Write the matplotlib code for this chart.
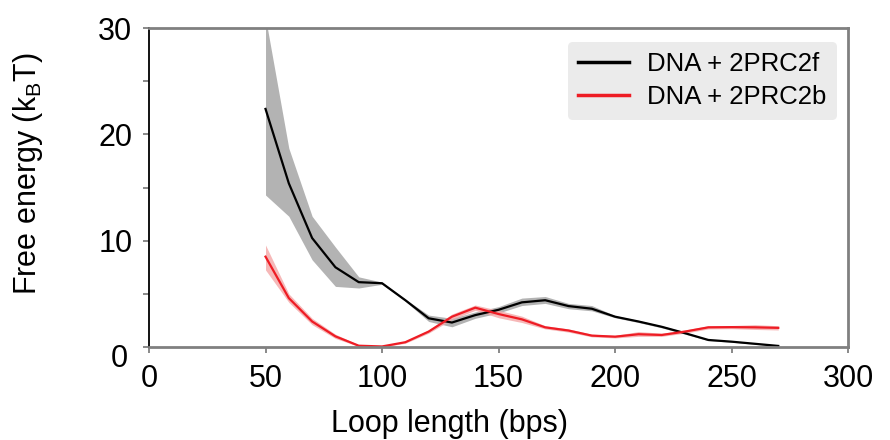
import numpy as np
import matplotlib
matplotlib.use("Agg")
import matplotlib.pyplot as plt

plt.rcParams['font.family'] = ['Liberation Sans', 'DejaVu Sans']

# loop lengths (bps)
loop = [50, 60, 70, 80, 90, 100, 110, 120, 130, 140, 150, 160,
        170, 180, 190, 200, 210, 220, 230, 240, 250, 260, 270]

# DNA + 2PRC2f
free_f = [22.4, 15.4, 10.25, 7.5, 6.1, 6.0, 4.4, 2.7, 2.3, 3.0, 3.5, 4.2,
          4.4, 3.85, 3.6, 2.85, 2.4, 1.9, 1.3, 0.66, 0.5, 0.3, 0.1]
lo_f = [14.3, 12.3, 8.2, 5.7, 5.55, 5.9, 4.3, 2.4, 1.9, 2.7, 3.2, 3.9,
        4.1, 3.6, 3.4, 2.75, 2.3, 1.8, 1.2, 0.6, 0.45, 0.25, 0.05]
hi_f = [31.0, 18.7, 12.3, 9.4, 6.6, 6.1, 4.5, 3.0, 2.7, 3.3, 3.8, 4.6,
        4.75, 4.1, 3.9, 2.95, 2.5, 2.0, 1.4, 0.72, 0.55, 0.35, 0.15]

# DNA + 2PRC2b
free_b = [8.5, 4.6, 2.4, 1.0, 0.12, 0.05, 0.45, 1.45, 2.85, 3.7, 3.1, 2.6,
          1.85, 1.55, 1.07, 0.97, 1.2, 1.13, 1.45, 1.85, 1.87, 1.85, 1.8]
lo_b = [7.25, 4.2, 2.1, 0.8, 0.05, 0.0, 0.35, 1.3, 2.6, 3.45, 2.75, 2.3,
        1.7, 1.4, 0.95, 0.85, 1.0, 1.0, 1.3, 1.7, 1.72, 1.65, 1.6]
hi_b = [9.6, 5.0, 2.7, 1.2, 0.2, 0.1, 0.55, 1.6, 3.1, 3.95, 3.45, 2.9,
        2.0, 1.7, 1.2, 1.1, 1.45, 1.3, 1.6, 2.0, 2.02, 2.1, 2.0]

fig = plt.figure(figsize=(8.9, 4.4), dpi=100)
ax = fig.add_axes([0.1674, 0.2114, 0.7856, 0.7246])

ax.fill_between(loop, lo_f, hi_f, color='#b3b3b3', lw=0)
ax.fill_between(loop, lo_b, hi_b, color='#f4a6a6', alpha=0.8, lw=0)
ax.plot(loop, free_f, color='black', lw=1.6, label='DNA + 2PRC2f')
ax.plot(loop, free_b, color='#ee1c24', lw=1.6, label='DNA + 2PRC2b')

ax.set_xlim(0, 300)
ax.set_ylim(0, 30)
ax.set_xticks(range(0, 301, 50))
ax.set_yticks([0, 10, 20, 30])
ax.set_yticklabels(['', '10', '20', '30'])
ax.set_yticks([5, 15, 25], minor=True)
ax.annotate('0', xy=(0, 0), xycoords=('axes fraction', 'data'),
            xytext=(-15, -9), textcoords='offset points',
            ha='right', va='center', fontsize=22)

for s in ['top', 'right', 'bottom']:
    ax.spines[s].set_color('#808080')
    ax.spines[s].set_linewidth(2)
ax.spines['left'].set_color('black')
ax.spines['left'].set_linewidth(1.3)

ax.tick_params(axis='both', labelsize=22, color='#808080', width=1.3,
               direction='out', length=4)
ax.tick_params(axis='y', pad=8)
ax.tick_params(axis='x', pad=8)
ax.tick_params(axis='y', which='minor', color='#808080', width=1.3,
               length=4, direction='out')

ax.set_xlabel('Loop length (bps)', fontsize=22)
ax.xaxis.set_label_coords(0.43, -0.195)
ax.set_ylabel('Free energy (k$_\\mathregular{B}$T)', fontsize=22)
ax.yaxis.set_label_coords(-0.149, 0.545)

leg = ax.legend(loc='upper right', fontsize=18.5, frameon=True,
                handlelength=2.0, handletextpad=0.7, borderpad=0.4,
                labelspacing=0.35, borderaxespad=0,
                bbox_to_anchor=(0.984, 0.956))
leg.get_frame().set_facecolor('#ebebeb')
leg.get_frame().set_edgecolor('none')
leg.get_frame().set_alpha(1)
for line in leg.get_lines():
    line.set_linewidth(2.5)

fig.savefig('out.png', dpi=100)
